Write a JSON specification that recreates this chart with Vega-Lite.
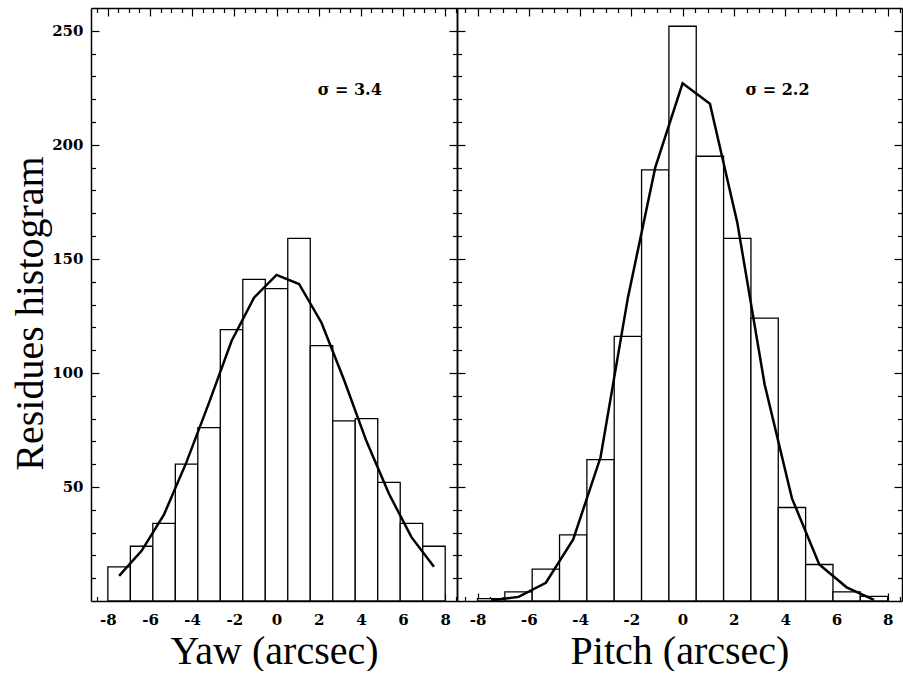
{
  "$schema": "https://vega.github.io/schema/vega-lite/v6.json",
  "background": "white",
  "padding": {"left": 10, "top": 7, "right": 0, "bottom": 0},
  "config": {
    "view": {"stroke": null},
    "axis": {
      "grid": false,
      "domainColor": "black",
      "domainWidth": 1.5,
      "tickColor": "black",
      "tickWidth": 1.2,
      "tickSize": 0,
      "labelColor": "black",
      "labelFont": "DejaVu Serif",
      "labelFontSize": 15,
      "labelFontWeight": "bold",
      "labelOverlap": false,
      "labelFlush": false,
      "titleColor": "black",
      "titleFont": "Liberation Serif",
      "titleFontSize": 40,
      "titleFontWeight": "normal"
    }
  },
  "datasets": {
    "yaw": [
      {"lo": -8.0, "hi": -6.933, "mid": -7.467, "count": 15, "fit": 11},
      {"lo": -6.933, "hi": -5.867, "mid": -6.4, "count": 24, "fit": 22},
      {"lo": -5.867, "hi": -4.8, "mid": -5.333, "count": 34, "fit": 38},
      {"lo": -4.8, "hi": -3.733, "mid": -4.267, "count": 60, "fit": 61},
      {"lo": -3.733, "hi": -2.667, "mid": -3.2, "count": 76, "fit": 87},
      {"lo": -2.667, "hi": -1.6, "mid": -2.133, "count": 119, "fit": 114},
      {"lo": -1.6, "hi": -0.533, "mid": -1.067, "count": 141, "fit": 133},
      {"lo": -0.533, "hi": 0.533, "mid": 0.0, "count": 137, "fit": 143},
      {"lo": 0.533, "hi": 1.6, "mid": 1.067, "count": 159, "fit": 139},
      {"lo": 1.6, "hi": 2.667, "mid": 2.133, "count": 112, "fit": 122},
      {"lo": 2.667, "hi": 3.733, "mid": 3.2, "count": 79, "fit": 97},
      {"lo": 3.733, "hi": 4.8, "mid": 4.267, "count": 80, "fit": 70},
      {"lo": 4.8, "hi": 5.867, "mid": 5.333, "count": 52, "fit": 47},
      {"lo": 5.867, "hi": 6.933, "mid": 6.4, "count": 34, "fit": 28},
      {"lo": 6.933, "hi": 8.0, "mid": 7.467, "count": 24, "fit": 15}
    ],
    "pitch": [
      {"lo": -8.0, "hi": -6.933, "mid": -7.467, "count": 1, "fit": 0.3},
      {"lo": -6.933, "hi": -5.867, "mid": -6.4, "count": 4, "fit": 1.8},
      {"lo": -5.867, "hi": -4.8, "mid": -5.333, "count": 14, "fit": 8},
      {"lo": -4.8, "hi": -3.733, "mid": -4.267, "count": 29, "fit": 27},
      {"lo": -3.733, "hi": -2.667, "mid": -3.2, "count": 62, "fit": 63},
      {"lo": -2.667, "hi": -1.6, "mid": -2.133, "count": 116, "fit": 133},
      {"lo": -1.6, "hi": -0.533, "mid": -1.067, "count": 189, "fit": 190},
      {"lo": -0.533, "hi": 0.533, "mid": 0.0, "count": 252, "fit": 227},
      {"lo": 0.533, "hi": 1.6, "mid": 1.067, "count": 195, "fit": 218},
      {"lo": 1.6, "hi": 2.667, "mid": 2.133, "count": 159, "fit": 166},
      {"lo": 2.667, "hi": 3.733, "mid": 3.2, "count": 124, "fit": 95},
      {"lo": 3.733, "hi": 4.8, "mid": 4.267, "count": 41, "fit": 45},
      {"lo": 4.8, "hi": 5.867, "mid": 5.333, "count": 16, "fit": 16},
      {"lo": 5.867, "hi": 6.933, "mid": 6.4, "count": 4, "fit": 6},
      {"lo": 6.933, "hi": 8.0, "mid": 7.467, "count": 2, "fit": 0.5}
    ],
    "yawNote": [{"x": 1.95, "y": 224, "label": "σ = 3.4"}],
    "pitchNote": [{"x": 2.45, "y": 224, "label": "σ = 2.2"}]
  },
  "hconcat": [
    {
      "width": 366,
      "height": 593,
      "resolve": {"axis": {"x": "independent", "y": "independent"}},
      "layer": [
        {
          "data": {"name": "yaw"},
          "mark": {"type": "rect", "fill": "white", "stroke": "black", "strokeWidth": 1.3},
          "encoding": {
            "x": {
              "field": "lo", "type": "quantitative",
              "scale": {"domain": [-8.8, 8.56], "nice": false, "zero": false},
              "axis": {
                "orient": "bottom",
                "title": "Yaw (arcsec)",
                "titleBaseline": "alphabetic",
                "titleY": 62,
                "values": [-8.5, -8, -7.5, -7, -6.5, -6, -5.5, -5, -4.5, -4, -3.5, -3, -2.5, -2, -1.5, -1, -0.5, 0, 0.5, 1, 1.5, 2, 2.5, 3, 3.5, 4, 4.5, 5, 5.5, 6, 6.5, 7, 7.5, 8, 8.5],
                "labelExpr": "datum.value % 2 === 0 ? '' + datum.value : ''",
                "labelPadding": 11,
                "encoding": {"ticks": {"y2": {"condition": {"test": "datum.value % 2 === 0", "value": -8}, "value": -4.5}}}
              }
            },
            "x2": {"field": "hi"},
            "y": {
              "field": "count", "type": "quantitative",
              "scale": {"domain": [0, 260], "nice": false},
              "axis": {
                "orient": "left",
                "title": "Residues histogram",
                "titleBaseline": "alphabetic",
                "titleAngle": -90,
                "titleX": -49,
                "titleY": 305,
                "values": [10, 20, 30, 40, 50, 60, 70, 80, 90, 100, 110, 120, 130, 140, 150, 160, 170, 180, 190, 200, 210, 220, 230, 240, 250],
                "labelExpr": "datum.value % 50 === 0 ? '' + datum.value : ''",
                "labelPadding": 8,
                "encoding": {"ticks": {"x2": {"condition": {"test": "datum.value % 50 === 0", "value": 8}, "value": 4.5}}}
              }
            },
            "y2": {"datum": 0}
          }
        },
        {
          "data": {"name": "yaw"},
          "mark": {"type": "line", "color": "black", "strokeWidth": 2.5},
          "encoding": {
            "x": {
              "field": "mid", "type": "quantitative",
              "scale": {"domain": [-8.8, 8.56], "nice": false, "zero": false},
              "axis": {
                "orient": "top", "title": null, "labels": false,
                "values": [-8.5, -8, -7.5, -7, -6.5, -6, -5.5, -5, -4.5, -4, -3.5, -3, -2.5, -2, -1.5, -1, -0.5, 0, 0.5, 1, 1.5, 2, 2.5, 3, 3.5, 4, 4.5, 5, 5.5, 6, 6.5, 7, 7.5, 8, 8.5],
                "encoding": {"ticks": {"y2": {"condition": {"test": "datum.value % 2 === 0", "value": 8}, "value": 4.5}}}
              }
            },
            "y": {
              "field": "fit", "type": "quantitative",
              "scale": {"domain": [0, 260], "nice": false},
              "axis": {
                "orient": "right", "title": null, "labels": false,
                "values": [10, 20, 30, 40, 50, 60, 70, 80, 90, 100, 110, 120, 130, 140, 150, 160, 170, 180, 190, 200, 210, 220, 230, 240, 250],
                "encoding": {"ticks": {"x2": {"condition": {"test": "datum.value % 50 === 0", "value": -8}, "value": -4.5}}}
              }
            }
          }
        },
        {
          "data": {"name": "yawNote"},
          "mark": {"type": "text", "align": "left", "baseline": "middle", "font": "DejaVu Serif", "fontSize": 16, "fontWeight": "bold", "color": "black"},
          "encoding": {
            "x": {"field": "x", "type": "quantitative", "scale": {"domain": [-8.8, 8.56], "nice": false, "zero": false}, "axis": null},
            "y": {"field": "y", "type": "quantitative", "scale": {"domain": [0, 260], "nice": false}, "axis": null},
            "text": {"field": "label"}
          }
        }
      ]
    },
    {
      "width": 445,
      "height": 593,
      "resolve": {"axis": {"x": "independent", "y": "independent"}},
      "layer": [
        {
          "data": {"name": "pitch"},
          "mark": {"type": "rect", "fill": "white", "stroke": "black", "strokeWidth": 1.3},
          "encoding": {
            "x": {
              "field": "lo", "type": "quantitative",
              "scale": {"domain": [-8.8, 8.56], "nice": false, "zero": false},
              "axis": {
                "orient": "bottom",
                "title": "Pitch (arcsec)",
                "titleBaseline": "alphabetic",
                "titleY": 62,
                "values": [-8.5, -8, -7.5, -7, -6.5, -6, -5.5, -5, -4.5, -4, -3.5, -3, -2.5, -2, -1.5, -1, -0.5, 0, 0.5, 1, 1.5, 2, 2.5, 3, 3.5, 4, 4.5, 5, 5.5, 6, 6.5, 7, 7.5, 8, 8.5],
                "labelExpr": "datum.value % 2 === 0 ? '' + datum.value : ''",
                "labelPadding": 11,
                "encoding": {"ticks": {"y2": {"condition": {"test": "datum.value % 2 === 0", "value": -8}, "value": -4.5}}}
              }
            },
            "x2": {"field": "hi"},
            "y": {
              "field": "count", "type": "quantitative",
              "scale": {"domain": [0, 260], "nice": false},
              "axis": {
                "orient": "left", "title": null, "labels": false,
                "values": [10, 20, 30, 40, 50, 60, 70, 80, 90, 100, 110, 120, 130, 140, 150, 160, 170, 180, 190, 200, 210, 220, 230, 240, 250],
                "encoding": {"ticks": {"x2": {"condition": {"test": "datum.value % 50 === 0", "value": 8}, "value": 4.5}}}
              }
            },
            "y2": {"datum": 0}
          }
        },
        {
          "data": {"name": "pitch"},
          "mark": {"type": "line", "color": "black", "strokeWidth": 2.5},
          "encoding": {
            "x": {
              "field": "mid", "type": "quantitative",
              "scale": {"domain": [-8.8, 8.56], "nice": false, "zero": false},
              "axis": {
                "orient": "top", "title": null, "labels": false,
                "values": [-8.5, -8, -7.5, -7, -6.5, -6, -5.5, -5, -4.5, -4, -3.5, -3, -2.5, -2, -1.5, -1, -0.5, 0, 0.5, 1, 1.5, 2, 2.5, 3, 3.5, 4, 4.5, 5, 5.5, 6, 6.5, 7, 7.5, 8, 8.5],
                "encoding": {"ticks": {"y2": {"condition": {"test": "datum.value % 2 === 0", "value": 8}, "value": 4.5}}}
              }
            },
            "y": {
              "field": "fit", "type": "quantitative",
              "scale": {"domain": [0, 260], "nice": false},
              "axis": {
                "orient": "right", "title": null, "labels": false,
                "values": [10, 20, 30, 40, 50, 60, 70, 80, 90, 100, 110, 120, 130, 140, 150, 160, 170, 180, 190, 200, 210, 220, 230, 240, 250],
                "encoding": {"ticks": {"x2": {"condition": {"test": "datum.value % 50 === 0", "value": -8}, "value": -4.5}}}
              }
            }
          }
        },
        {
          "data": {"name": "pitchNote"},
          "mark": {"type": "text", "align": "left", "baseline": "middle", "font": "DejaVu Serif", "fontSize": 16, "fontWeight": "bold", "color": "black"},
          "encoding": {
            "x": {"field": "x", "type": "quantitative", "scale": {"domain": [-8.8, 8.56], "nice": false, "zero": false}, "axis": null},
            "y": {"field": "y", "type": "quantitative", "scale": {"domain": [0, 260], "nice": false}, "axis": null},
            "text": {"field": "label"}
          }
        }
      ]
    }
  ],
  "spacing": 0,
  "bounds": "flush"
}
